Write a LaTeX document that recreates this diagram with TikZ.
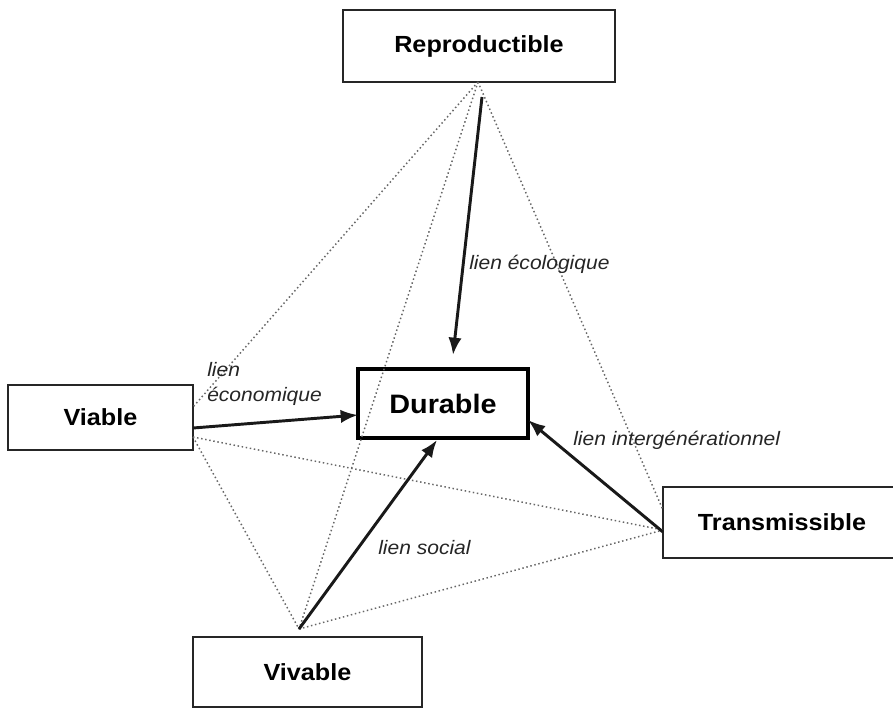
\documentclass[tikz,border=0pt]{standalone}
\usepackage{fontspec}
\setmainfont{Liberation Sans}[FakeStretch=1.08]
\usetikzlibrary{arrows.meta}
\begin{document}
\begin{tikzpicture}[x=0.75pt,y=-0.75pt,
  box/.style={draw=black!85, line width=1.5pt, rectangle, inner sep=0pt,
    font=\fontsize{17.5}{21}\selectfont\bfseries},
  mainbox/.style={draw=black, line width=2.6pt, rectangle, inner sep=0pt,
    font=\fontsize{20}{24}\selectfont\bfseries},
  link/.style={line width=2.2pt, black!90, -{Latex[length=13pt,width=10pt]}},
  dotline/.style={dotted, line width=1.1pt, black!60},
  lbl/.style={font=\fontsize{14.6}{19}\selectfont\itshape, inner sep=0pt, text=black!85}
]
\clip (0,0) rectangle (893,708);
\fill[white] (0,0) rectangle (893,708);

% boxes
\node[box, minimum width=204pt, minimum height=54pt] (rep) at (479,46) {Reproductible};
\node[box, minimum width=138.75pt, minimum height=48.75pt] (via) at (100.5,417.5) {Viable};
\node[mainbox, minimum width=127.5pt, minimum height=51.75pt] (dur) at (443,403.5) {Durable};
\node[box, minimum width=178.5pt, minimum height=53.25pt] (tra) at (782,522.5) {Transmissible};
\node[box, minimum width=171.75pt, minimum height=52.5pt] (viv) at (307.5,672) {Vivable};

% named end points
\coordinate (repFoot) at (478,82);
\coordinate (repArr) at (482,97);
\coordinate (vivTop) at (299,629);
\coordinate (viaHi) at (193,407);
\coordinate (viaLow) at (193,437);
\coordinate (viaArr) at (193,428);
\coordinate (traHi) at (663,510);
\coordinate (traLow) at (663,530);
\coordinate (traArr) at (663,532);
\coordinate (durN) at (453,355);
\coordinate (durW) at (358,415);
\coordinate (durE) at (528,420);
\coordinate (durS) at (437,440);

% dotted tetrahedron
\draw[dotline] (repFoot) -- (viaHi);
\draw[dotline] (repFoot) -- (vivTop);
\draw[dotline] (repFoot) -- (traHi);
\draw[dotline] (viaLow) -- (traLow);
\draw[dotline] (viaLow) -- (vivTop);
\draw[dotline] (vivTop) -- (traLow);

% solid links
\draw[link] (repArr) -- (durN);
\draw[link] (viaArr) -- (durW);
\draw[link] (traArr) -- (durE);
\draw[link] (vivTop) -- (durS);

% labels
\node[lbl, anchor=west] (lEco) at (469,264) {lien écologique};
\node[lbl, anchor=north west, align=left] (lEcon) at (207,362) {lien\\économique};
\node[lbl, anchor=west] (lInt) at (573,440) {lien intergénérationnel};
\node[lbl, anchor=west] (lSoc) at (378,548) {lien social};
\end{tikzpicture}
\end{document}
